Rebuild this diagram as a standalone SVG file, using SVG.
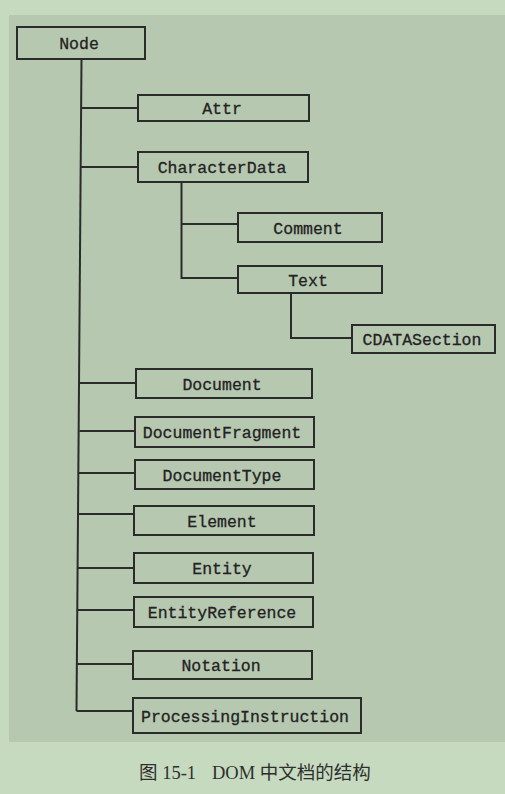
<svg xmlns="http://www.w3.org/2000/svg" width="505" height="794" viewBox="0 0 505 794">
<style>
.box{fill:none;stroke:#2b2b2b;stroke-width:2}
.lbl{font-family:"Liberation Mono","DejaVu Sans Mono",monospace;font-size:16.5px;fill:#222;stroke:#222;stroke-width:0.3;text-anchor:middle}
.wire{fill:none;stroke:#2b2b2b;stroke-width:2}
.cap{font-family:"Liberation Serif","Noto Sans CJK SC",serif;font-size:18.5px;fill:#2e2e2e}
</style>
<rect x="0" y="0" width="505" height="794" fill="#c6dac0"/>
<rect x="9" y="15" width="496" height="727" fill="#b7c8b1"/>
<g id="connectors">
<path class="wire" d="M81.5 59 L76.5 711"/>
<path class="wire" d="M81 108 H138"/>
<path class="wire" d="M81 167 H138"/>
<path class="wire" d="M80 383 H136"/>
<path class="wire" d="M79.5 431 H135"/>
<path class="wire" d="M79 473 H135"/>
<path class="wire" d="M79 514 H134"/>
<path class="wire" d="M78 568 H134"/>
<path class="wire" d="M78 610 H134"/>
<path class="wire" d="M77 664 H133"/>
<path class="wire" d="M76.5 711 H133"/>
<path class="wire" d="M181.5 182 V278 H238"/>
<path class="wire" d="M181.5 224 H238"/>
<path class="wire" d="M291 293 V338 H352"/>
</g>
<g id="node-Node"><rect class="box" x="17" y="27" width="128" height="32"/><text class="lbl" x="79" y="49">Node</text></g>
<g id="node-Attr"><rect class="box" x="138" y="95" width="171" height="26"/><text class="lbl" x="222" y="114">Attr</text></g>
<g id="node-CharacterData"><rect class="box" x="138" y="152" width="170" height="30"/><text class="lbl" x="222" y="173">CharacterData</text></g>
<g id="node-Comment"><rect class="box" x="238" y="213" width="144" height="29"/><text class="lbl" x="308" y="233.5">Comment</text></g>
<g id="node-Text"><rect class="box" x="238" y="266" width="144" height="27"/><text class="lbl" x="308" y="285.5">Text</text></g>
<g id="node-CDATASection"><rect class="box" x="352" y="325" width="143" height="28"/><text class="lbl" x="422" y="345">CDATASection</text></g>
<g id="node-Document"><rect class="box" x="136" y="369" width="176" height="29"/><text class="lbl" x="222" y="389.5">Document</text></g>
<g id="node-DocumentFragment"><rect class="box" x="135" y="417" width="179" height="30"/><text class="lbl" x="222" y="438">DocumentFragment</text></g>
<g id="node-DocumentType"><rect class="box" x="135" y="460" width="179" height="29"/><text class="lbl" x="222" y="480.5">DocumentType</text></g>
<g id="node-Element"><rect class="box" x="134" y="506" width="180" height="29"/><text class="lbl" x="222" y="526.5">Element</text></g>
<g id="node-Entity"><rect class="box" x="134" y="553" width="179" height="30"/><text class="lbl" x="222" y="574">Entity</text></g>
<g id="node-EntityReference"><rect class="box" x="134" y="597" width="179" height="30"/><text class="lbl" x="222" y="618">EntityReference</text></g>
<g id="node-Notation"><rect class="box" x="133" y="651" width="179" height="28"/><text class="lbl" x="221" y="671">Notation</text></g>
<g id="node-ProcessingInstruction"><rect class="box" x="133" y="698" width="228" height="35"/><text class="lbl" x="245" y="721.5">ProcessingInstruction</text></g>
<text class="cap" x="139" y="779">图 15-1<tspan x="212">DOM 中文档的结构</tspan></text>
</svg>
